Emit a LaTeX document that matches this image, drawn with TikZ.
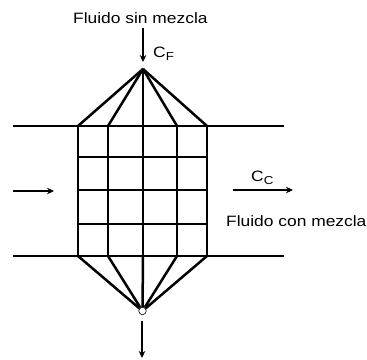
\documentclass[tikz,border=0pt]{standalone}
\usepackage{fontspec}
\setmainfont[FakeStretch=1.16]{Liberation Sans}
\usetikzlibrary{arrows.meta}

\begin{document}
\begin{tikzpicture}[
    x=1pt, y=-1pt,
    tube/.style={line width=2.5pt},
    flow/.style={-{Stealth[length=7pt, width=6.5pt]}, line width=1.1pt},
    tag/.style={font=\fontsize{15}{17}\selectfont, inner sep=0pt, anchor=base west}
]
    \useasboundingbox (0,0) rectangle (367,359);

    % corners of the tube and the two headers
    \coordinate (inL) at (13,126);
    \coordinate (inR) at (284,126);
    \coordinate (outL) at (13,256);
    \coordinate (outR) at (284,256);
    \coordinate (apex) at (143,69);
    \coordinate (t1) at (78,126);
    \coordinate (t2) at (108,126);
    \coordinate (t3) at (143,126);
    \coordinate (t4) at (177,126);
    \coordinate (t5) at (207,126);
    \coordinate (b1) at (78,256);
    \coordinate (b2) at (108,256);
    \coordinate (b3) at (143,256);
    \coordinate (b4) at (177,256);
    \coordinate (b5) at (207,256);
    \coordinate (l1) at (78,157);
    \coordinate (l2) at (78,190);
    \coordinate (l3) at (78,224);
    \coordinate (r1) at (207,157);
    \coordinate (r2) at (207,190);
    \coordinate (r3) at (207,224);

    \draw[tube] (inL) -- (inR);
    \draw[tube] (outL) -- (outR);
    \draw[tube] (t1) -- (b1);
    \draw[tube] (t2) -- (b2);
    \draw[tube] (t3) -- (b3);
    \draw[tube] (t4) -- (b4);
    \draw[tube] (t5) -- (b5);
    \draw[tube] (l1) -- (r1);
    \draw[tube] (l2) -- (r2);
    \draw[tube] (l3) -- (r3);

    \node[circle, draw, fill=white, line width=0.6pt, minimum size=7.5pt, inner sep=0pt] (drain) at (142.5,311) {};

    \draw[tube] (apex) -- (t1);
    \draw[tube] (apex) -- (t2);
    \draw[tube] (apex) -- (t3);
    \draw[tube] (apex) -- (t4);
    \draw[tube] (apex) -- (t5);
    \draw[tube] (drain) -- (b1);
    \draw[tube] (drain) -- (b2);
    \draw[tube] (drain) -- (b3);
    \draw[tube] (drain) -- (b4);
    \draw[tube] (drain) -- (b5);

    % flow arrows
    \coordinate (feedA) at (143,28);
    \coordinate (feedB) at (143,62);
    \coordinate (sideA) at (13,191);
    \coordinate (sideB) at (54,191);
    \coordinate (mixA) at (233,190);
    \coordinate (mixB) at (293,190);
    \coordinate (dropA) at (142,321);
    \coordinate (dropB) at (142,358);
    \draw[flow] (feedA) -- (feedB);
    \draw[flow] (sideA) -- (sideB);
    \draw[flow] (mixA) -- (mixB);
    \draw[flow] (dropA) -- (dropB);

    \node[tag] (feedtxt) at (73,23) {Fluido sin mezcla};
    \node[tag] (cf) at (153,57) {C\raisebox{-3pt}{\fontsize{11.5}{12}\selectfont F}};
    \node[tag] (cc) at (251,181) {C\raisebox{-3pt}{\fontsize{11.5}{12}\selectfont C}};
    \node[tag] (mixtxt) at (226,226) {Fluido con mezcla};
\end{tikzpicture}
\end{document}
